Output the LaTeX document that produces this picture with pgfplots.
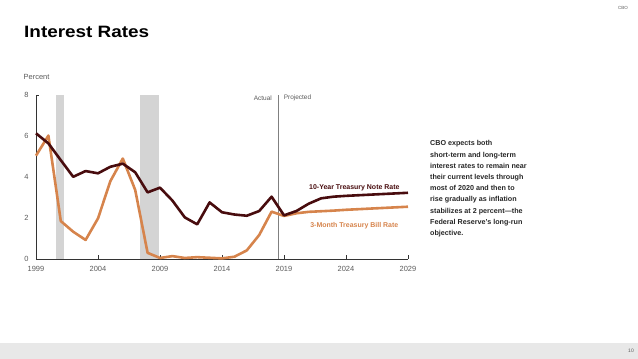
\documentclass[border=0pt]{standalone}
\usepackage{pgfplots}
\pgfplotsset{compat=1.18}
\usepackage{fontspec}
\setmainfont{Liberation Sans}
\definecolor{darkline}{RGB}{72,12,14}
\definecolor{orangeline}{RGB}{214,132,76}
\definecolor{recgray}{RGB}{212,212,212}
\definecolor{ticktext}{RGB}{90,90,90}
\definecolor{bandgray}{RGB}{232,232,232}
\begin{document}
\begin{tikzpicture}
\path[use as bounding box] (0,0) rectangle (638bp,359bp);
\fill[bandgray] (0,0) rectangle (638bp,16bp);
\node[anchor=center,font=\fontsize{5}{6}\selectfont,text=ticktext] at (631bp,8.5bp) {10};
\node[anchor=center,font=\fontsize{4.5}{5}\selectfont,text=ticktext] at (623bp,351bp) {CBO};
\node[anchor=base west,inner sep=0pt,font=\fontsize{16.5}{18}\selectfont\bfseries] at (24bp,321.5bp) {\scalebox{1.15}[1]{Interest Rates}};
\node[anchor=west,inner sep=0pt,font=\fontsize{7.5}{9}\selectfont,text=ticktext] at (23.5bp,282bp) {Percent};
\node[anchor=north west,inner sep=0pt,align=left,font=\fontsize{7.2}{11.25}\selectfont\bfseries,text=black!85] at (430bp,218.5bp) {CBO expects both\\short-term and long-term\\interest rates to remain near\\their current levels through\\most of 2020 and then to\\rise gradually as inflation\\stabilizes at 2 percent—the\\Federal Reserve’s long-run\\objective.};
\begin{axis}[
  at={(36bp,100bp)}, anchor=south west,
  scale only axis, width=372bp, height=164bp,
  xmin=1999, xmax=2029, ymin=0, ymax=8,
  axis x line=bottom, axis y line=left,
  axis line style={-, draw=black!80, line width=0.7bp},
  xtick={1999,2004,2009,2014,2019,2024,2029},
  ytick={0,2,4,6,8},
  tick align=inside,
  major tick length=4bp,
  xtick style={draw=black!80, line width=0.6bp},
  ytick style={draw=none},
  /pgf/number format/assume math mode=true,
  /pgf/number format/1000 sep={},
  ticklabel style={font=\fontsize{7.5}{9}\selectfont, text=ticktext},
  xticklabel style={yshift=-4bp},
  yticklabel style={xshift=-4bp},
  clip=false,
]
\addplot[fill=recgray, draw=none] coordinates {(2000.6,0) (2000.6,8) (2001.25,8) (2001.25,0)} -- cycle;
\addplot[fill=recgray, draw=none] coordinates {(2007.4,0) (2007.4,8) (2008.9,8) (2008.9,0)} -- cycle;
\addplot[black!80, line width=0.6bp] coordinates {(1999,8) (1999.25,8)};
\addplot[black!50, line width=0.6bp] coordinates {(2018.5,0) (2018.5,8)};
\node[anchor=east, font=\fontsize{6.5}{8}\selectfont, text=ticktext] at (axis cs:2018.3,7.85) {Actual};
\node[anchor=west, font=\fontsize{6.5}{8}\selectfont, text=ticktext] at (axis cs:2018.7,7.85) {Projected};
\addplot[orangeline, line width=2.6bp, line join=round] coordinates {
(1999,5.04) (2000,6.02) (2001,1.85) (2002,1.33) (2003,0.93) (2004,1.98) (2005,3.8) (2006,4.9) (2007,3.37) (2008,0.3)
(2009,0.05) (2010,0.14) (2011,0.05) (2012,0.09) (2013,0.06) (2014,0.03) (2015,0.11) (2016,0.42) (2017,1.17) (2018,2.31)
(2019,2.10) (2020,2.23) (2021,2.30) (2022,2.33) (2023,2.36) (2024,2.40) (2025,2.43) (2026,2.46) (2027,2.49) (2028,2.52) (2029,2.55)};
\addplot[darkline, line width=2.6bp, line join=round] coordinates {
(1999,6.13) (2000,5.64) (2001,4.82) (2002,4.01) (2003,4.29) (2004,4.18) (2005,4.50) (2006,4.65) (2007,4.23) (2008,3.25)
(2009,3.48) (2010,2.85) (2011,2.03) (2012,1.69) (2013,2.76) (2014,2.28) (2015,2.17) (2016,2.11) (2017,2.34) (2018,3.04)
(2019,2.13) (2020,2.34) (2021,2.70) (2022,2.96) (2023,3.04) (2024,3.08) (2025,3.11) (2026,3.14) (2027,3.17) (2028,3.20) (2029,3.23)};
\node[anchor=east, font=\fontsize{7}{8}\selectfont\bfseries, text=darkline] at (axis cs:2028.6,3.45) {10-Year Treasury Note Rate};
\node[anchor=east, font=\fontsize{7}{8}\selectfont\bfseries, text=orangeline] at (axis cs:2028.5,1.62) {3-Month Treasury Bill Rate};
\end{axis}
\end{tikzpicture}
\end{document}
